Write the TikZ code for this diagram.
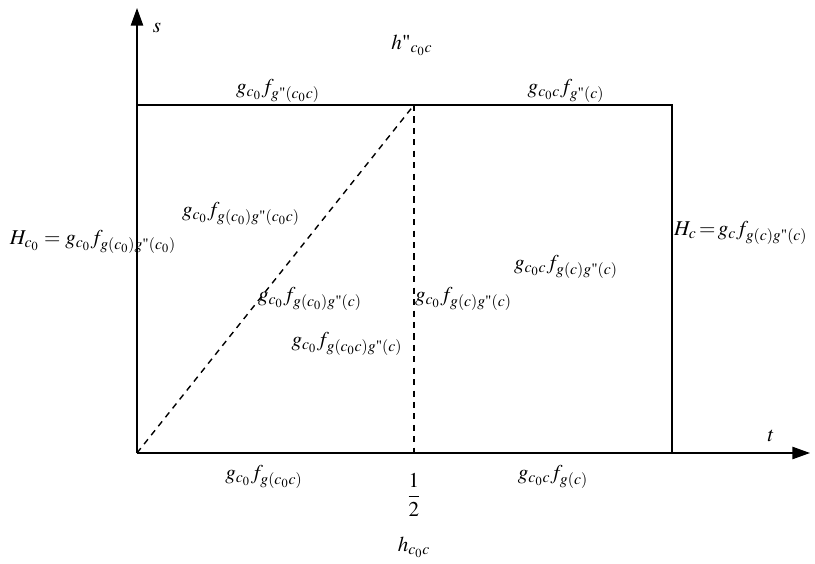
\documentclass[tikz,border=0pt]{standalone}
\usepackage[T1]{fontenc}
\usepackage{mathptmx}
\usepackage{amsmath}
\usetikzlibrary{arrows.meta}
\newcommand{\dq}{\text{\textquotedbl}}
\tikzset{lbl/.style={inner sep=1pt, font=\large},
         dsh/.style={thick, dash pattern=on 3.5pt off 3pt}}

\begin{document}
\begin{tikzpicture}[x=0.02cm, y=-0.02cm]
    \useasboundingbox (0,0) rectangle (815,564);
    % corners of the square
    \coordinate (O) at (137,453);
    \coordinate (S) at (137,8);
    \coordinate (T) at (810,453);
    \coordinate (A) at (137,105);
    \coordinate (B) at (414,105);
    \coordinate (C) at (672,105);
    \coordinate (D) at (672,453);
    \coordinate (M) at (414,453);

    \draw[thick, -{Triangle[length=10pt, width=7pt]}] (O) -- (S);
    \draw[thick, -{Triangle[length=10pt, width=7pt]}] (O) -- (T);
    \draw[thick] (A) -- (C) -- (D);
    \draw[dsh] (O) -- (B);
    \draw[dsh] (B) -- (M);

    \node[lbl] (s) at (157,28) {$s$};
    \node[lbl] (t) at (771,436) {$t$};
    \node[lbl] (hup) at (412,45) {$h\dq_{c_0c}$};
    \node[lbl] (topl) at (278,91) {$g_{c_0}f_{g\dq(c_0c)}$};
    \node[lbl] (topr) at (566,91) {$g_{c_0c}f_{g\dq(c)}$};
    \node[lbl] (in1) at (241,214) {$g_{c_0}f_{g(c_0)g\dq(c_0c)}$};
    \node[lbl] (Hl) at (93,242) {$H_{c_0}=g_{c_0}f_{g(c_0)g\dq(c_0)}$};
    \node[lbl, anchor=west] (Hr) at (672,233) {$H_c\!=\!g_cf_{g(c)g\dq(c)}$};
    \node[lbl] (in2) at (566,267) {$g_{c_0c}f_{g(c)g\dq(c)}$};
    \node[lbl] (in3) at (310,299) {$g_{c_0}f_{g(c_0)g\dq(c)}$};
    \node[lbl, anchor=west] (in4) at (413,299) {$g_{c_0}f_{g(c)g\dq(c)}$};
    \node[lbl] (in5) at (347,344) {$g_{c_0}f_{g(c_0c)g\dq(c)}$};
    \node[lbl] (botl) at (264,477) {$g_{c_0}f_{g(c_0c)}$};
    \node[lbl] (half) at (414,495) {$\dfrac{1}{2}$};
    \node[lbl] (botr) at (553,477) {$g_{c_0c}f_{g(c)}$};
    \node[lbl] (hdn) at (414,547) {$h_{c_0c}$};
\end{tikzpicture}
\end{document}
